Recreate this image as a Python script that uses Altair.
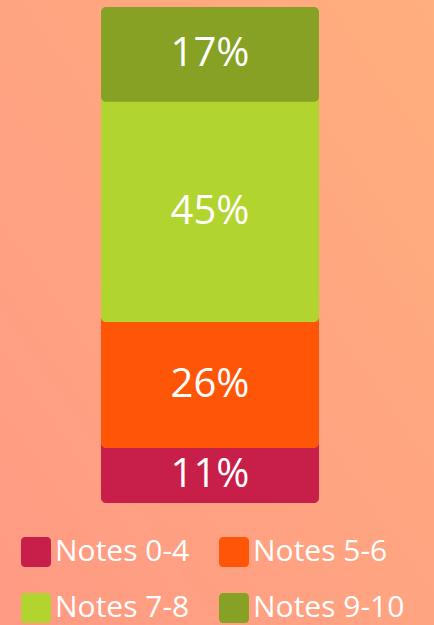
import altair as alt
import pandas as pd

# Data
categories = ["Notes 0-4", "Notes 5-6", "Notes 7-8", "Notes 9-10"]
shares = [11.1, 25.4, 44.4, 19.1]          # segment heights (share of bar)
labels = ["11%", "26%", "45%", "17%"]       # labels printed on segments
colors = ["#C81E4A", "#FF5507", "#B2D42E", "#86A123"]

df = pd.DataFrame({
    "bar": ["all"] * len(categories),
    "cat": categories,
    "share": shares,
    "label": labels,
    "ord": list(range(len(categories))),
})

W, H = 434, 625

bg = alt.Chart(pd.DataFrame({"k": [0]})).mark_rect(
    color=alt.Gradient(
        gradient="linear",
        stops=[alt.GradientStop(color="#FF9A84", offset=0),
               alt.GradientStop(color="#FFAE7E", offset=1)],
        x1=0, y1=1, x2=1, y2=0,
    )
).encode(x=alt.value(0), x2=alt.value(W), y=alt.value(0), y2=alt.value(H))

rounded = ("M-0.7,-1 L0.7,-1 Q1,-1 1,-0.7 L1,0.7 Q1,1 0.7,1 L-0.7,1 "
           "Q-1,1 -1,0.7 L-1,-0.7 Q-1,-1 -0.7,-1 Z")

xscale = alt.Scale(range=[101, 319], paddingInner=0, paddingOuter=0)
yscale = alt.Scale(domain=[0, 100], range=[503, 7])

base = alt.Chart(df).transform_stack(
    stack="share", as_=["lo", "hi"], groupby=["bar"],
    sort=[alt.SortField("ord", order="ascending")],
).transform_calculate(
    mid="(datum.lo + datum.hi) / 2",
    # each segment tucks slightly under the one above it
    hi_draw="datum.hi >= 99.9 ? datum.hi : datum.hi + 1.5",
)

bars = base.mark_bar(cornerRadius=5).encode(
    x=alt.X("bar:N", scale=xscale, axis=None),
    y=alt.Y("lo:Q", scale=yscale, axis=None),
    y2="hi_draw:Q",
    order=alt.Order("ord:Q"),
    color=alt.Color(
        "cat:N",
        scale=alt.Scale(domain=categories, range=colors),
        legend=alt.Legend(
            title=None, orient="none", legendX=21, legendY=537,
            columns=2, direction="horizontal",
            symbolType=rounded, symbolSize=900,
            symbolStrokeWidth=0, symbolOpacity=1,
            labelFont="Open Sans", labelFontSize=30, labelColor="white",
            labelOffset=4, rowPadding=26, columnPadding=29,
            labelLimit=300,
        ),
    ),
)

text = base.mark_text(
    font="Open Sans", fontSize=40, color="white", baseline="middle", align="center"
).encode(
    x=alt.X("bar:N", scale=xscale, axis=None),
    y=alt.Y("mid:Q", scale=yscale, axis=None),
    text="label:N",
)

chart = alt.layer(bg, bars, text).properties(
    width=W, height=H, autosize=alt.AutoSizeParams(type="none"), padding=0,
).configure_view(stroke=None).configure(background="#FFA380")

chart.save("out.html", embed_options={"renderer": "svg", "actions": False})
